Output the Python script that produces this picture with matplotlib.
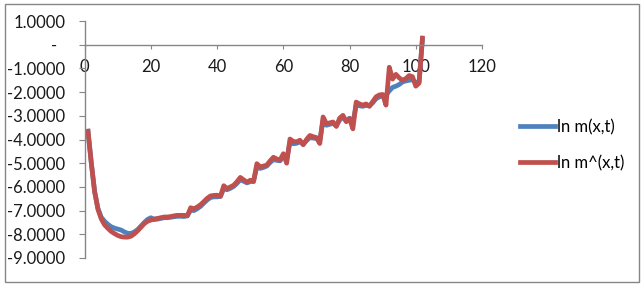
import numpy as np
import matplotlib
matplotlib.use("Agg")
import matplotlib.pyplot as plt
from matplotlib.patches import Rectangle

x = np.arange(1, 103)

ln_m_hat = [
    -3.65, -5.00, -6.20, -6.95, -7.35, -7.60, -7.75, -7.88, -7.97, -8.05,
    -8.10, -8.12, -8.12, -8.08, -7.98, -7.85, -7.70, -7.55, -7.45, -7.40,
    -7.35, -7.33, -7.30, -7.27, -7.27, -7.25, -7.22, -7.20, -7.20, -7.20,
    -7.22, -6.88, -6.92, -6.85, -6.75, -6.62, -6.48, -6.38, -6.36, -6.35,
    -6.40, -5.95, -6.07, -6.00, -5.93, -5.78, -5.60, -5.70, -5.80, -5.72,
    -5.78, -5.02, -5.15, -5.12, -5.08, -4.90, -4.75, -4.82, -4.87, -4.60,
    -5.00, -3.98, -4.08, -4.10, -4.03, -4.22, -4.00, -3.83, -3.88, -3.92,
    -4.17, -3.05, -3.33, -3.30, -3.26, -3.45, -3.10, -2.98, -3.25, -3.12,
    -3.55, -2.42, -2.50, -2.55, -2.50, -2.60, -2.40, -2.20, -2.12, -2.10,
    -2.55, -0.95, -1.45, -1.25, -1.40, -1.50, -1.43, -1.30, -1.35, -1.75,
    -1.62, 0.28,
]

ln_m = [
    -3.65, -5.00, -6.20, -6.90, -7.28, -7.45, -7.58, -7.68, -7.74, -7.78,
    -7.82, -7.90, -7.96, -7.96, -7.90, -7.80, -7.65, -7.50, -7.37, -7.30,
    -7.38, -7.36, -7.33, -7.30, -7.30, -7.28, -7.26, -7.24, -7.24, -7.25,
    -7.22, -6.98, -7.00, -6.92, -6.82, -6.68, -6.55, -6.45, -6.42, -6.42,
    -6.40, -6.08, -6.12, -6.06, -5.98, -5.85, -5.70, -5.76, -5.83, -5.78,
    -5.75, -5.15, -5.22, -5.18, -5.12, -4.97, -4.85, -4.88, -4.90, -4.70,
    -4.85, -4.12, -4.18, -4.16, -4.10, -4.20, -4.05, -3.92, -3.94, -3.96,
    -4.05, -3.20, -3.40, -3.36, -3.32, -3.42, -3.18, -3.06, -3.22, -3.10,
    -3.30, -2.55, -2.58, -2.60, -2.56, -2.58, -2.45, -2.28, -2.20, -2.16,
    -2.13, -1.95, -1.80, -1.75, -1.68, -1.57, -1.53, -1.50, -1.48, -1.60,
    -1.55, 0.20,
]

y_ticks = np.arange(-9, 2, 1)
y_tick_labels = ["%.4f" % v if v != 0 else "-\u00a0\u00a0" for v in y_ticks]
x_ticks = [0, 20, 40, 60, 80, 100, 120]

plt.rcParams['font.family'] = ['Lato', 'DejaVu Sans']
FS = 12

W, H = 642, 284
fig = plt.figure(figsize=(W / 100, H / 100), dpi=100)
fig.patch.set_facecolor('white')

left, right, top, bottom = 84.7, 482.0, 21.0, 258.0
ax = fig.add_axes([left / W, 1 - bottom / H, (right - left) / W, (bottom - top) / H])

blue = '#4F81BD'
red = '#C0504D'
ax.plot(x, ln_m, color=blue, lw=3.4, label='ln m(x,t)', solid_joinstyle='round')
ax.plot(x, ln_m_hat, color=red, lw=3.4, label='ln m^(x,t)', solid_joinstyle='round')

ax.set_xlim(0, 120)
ax.set_ylim(-9, 1)
ax.set_yticks(y_ticks)
ax.set_yticklabels(y_tick_labels)
ax.set_xticks(x_ticks)

axis_gray = '#868686'
for s in ['top', 'right']:
    ax.spines[s].set_visible(False)
ax.spines['bottom'].set_position(('data', 0))
ax.spines['bottom'].set_color(axis_gray)
ax.spines['left'].set_color(axis_gray)
ax.spines['bottom'].set_linewidth(1.0)
ax.spines['left'].set_linewidth(1.0)

ax.tick_params(axis='y', direction='out', length=4, width=0.8, color=axis_gray,
               pad=10, labelsize=FS, labelcolor='#1a1a1a')
ax.tick_params(axis='x', direction='out', length=3, width=0.8, color=axis_gray,
               pad=7, labelsize=FS, labelcolor='#1a1a1a')

leg = fig.legend(loc='center left', bbox_to_anchor=(505 / W, 1 - 145 / H),
                 frameon=False, fontsize=FS, handlelength=2.1,
                 handletextpad=0.1, labelspacing=1.2)
for line in leg.get_lines():
    line.set_linewidth(3.4)

fig.patches.append(Rectangle((4.5 / W, 1 - 281.5 / H), 634.5 / W, 278 / H,
                             transform=fig.transFigure, fill=False,
                             edgecolor=axis_gray, lw=1.0))

fig.savefig('out.png', dpi=100)
